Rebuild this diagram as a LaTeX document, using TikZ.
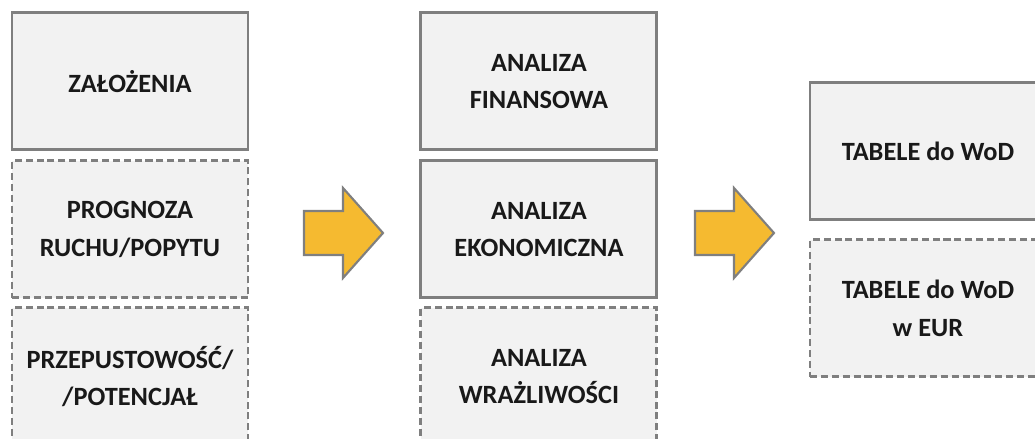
\documentclass[tikz,border=0pt]{standalone}
\usepackage{fontspec}
\setmainfont{Carlito}
\usepackage{tikz}
\usetikzlibrary{positioning}

\definecolor{boxgray}{HTML}{7F7F7F}
\definecolor{boxfill}{HTML}{F2F2F2}
\definecolor{arrowgold}{HTML}{F5BA30}

\begin{document}
\begin{tikzpicture}[
    stage/.style={draw=boxgray, fill=boxfill, line width=0.85pt,
      minimum width=2.36cm, minimum height=1.37cm, inner sep=0pt,
      align=center, text=black!90,
      font=\bfseries\fontsize{7.5}{10.6}\selectfont},
    optional/.style={stage, dash pattern=on 2pt off 1.1pt}]
  \def\fatarrow#1#2{%
    \draw[draw=boxgray, fill=arrowgold, line width=0.6pt, line join=miter]
      (#1,#2+0.22) -- (#1+0.39,#2+0.22) -- (#1+0.39,#2+0.45)
      -- (#1+0.79,#2) -- (#1+0.39,#2-0.45) -- (#1+0.39,#2-0.22)
      -- (#1,#2-0.22) -- cycle;}
  \useasboundingbox (0,0) rectangle (10.35,4.39);
  % inputs
  \node[stage] (zal) at (1.30,3.575) {ZAŁOŻENIA};
  \node[optional, below=0.08 of zal] (prog) {PROGNOZA\\RUCHU/POPYTU};
  \node[optional, below=0.07 of prog] (przep) {PRZEPUSTOWOŚĆ/\\/POTENCJAŁ};
  % analyses
  \node[stage, right=1.70 of zal] (fin) {ANALIZA\\FINANSOWA};
  \node[stage, below=0.08 of fin] (eko) {ANALIZA\\EKONOMICZNA};
  \node[optional, below=0.07 of eko] (wraz) {ANALIZA\\WRAŻLIWOŚCI};
  % outputs
  \node[stage] (wod) at (9.28,2.875) {TABELE do WoD};
  \node[optional, below=0.17 of wod] (eur) {TABELE do WoD\\w EUR};
  % arrows
  \fatarrow{3.04}{2.06}
  \fatarrow{6.95}{2.06}
\end{tikzpicture}
\end{document}
